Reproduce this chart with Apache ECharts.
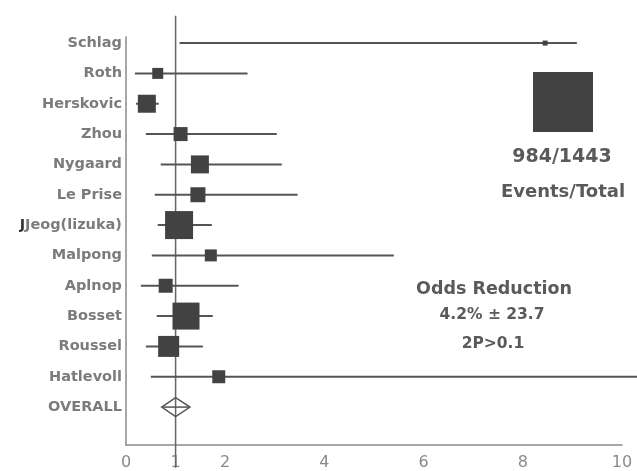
<!DOCTYPE html>
<html>
<head>
<meta charset="utf-8">
<script src="https://cdn.jsdelivr.net/npm/echarts@6/dist/echarts.min.js"></script>
<style>html,body{margin:0;padding:0;background:#fff}#c{width:637px;height:471px}</style>
</head>
<body>
<div id="c"></div>
<script>
// ---- data ----
const studies = ["Schlag","Roth","Herskovic","Zhou","Nygaard","Le Prise","Jeog(lizuka)","Malpong","Aplnop","Bosset","Roussel","Hatlevoll"];
const lower   = [1.08, 0.18, 0.20, 0.40, 0.70, 0.58, 0.64, 0.52, 0.30, 0.62, 0.40, 0.50];
const upper   = [9.09, 2.45, 0.66, 3.04, 3.14, 3.46, 1.73, 5.40, 2.27, 1.75, 1.55, 10.4];
const oddsRatio = [8.45, 0.64, 0.42, 1.10, 1.49, 1.45, 1.07, 1.71, 0.80, 1.21, 0.86, 1.87];
const weights = [5, 11, 18, 14, 18, 15, 28, 12, 14, 27, 21, 13];
const overall = {label: "OVERALL", lower: 0.72, upper: 1.29, odds: 1.0};
const xTicks = [0, 1, 2, 4, 6, 8, 10];
const legendText = ["984/1443", "Events/Total"];
const statText = ["Odds Reduction", "4.2% \u00b1 23.7", "2P>0.1"];

// ---- chart ----
const chart = echarts.init(document.getElementById('c'), null, {renderer: 'canvas'});
const FONT = '"DejaVu Sans", sans-serif';
const TXT = '#5a5a5a';
const BOX = '#424242';

const rows = studies.map((s, i) => [lower[i], upper[i], oddsRatio[i], i + 1, weights[i]]);
const labelData = studies.map((s, i) => ({value: [0, i + 1], name: s}));
labelData.push({value: [0, studies.length + 1], name: overall.label});

const option = {
  animation: false,
  grid: {left: 126, right: 15, top: 37, bottom: 24, containLabel: false},
  xAxis: {
    type: 'value', min: 0, max: 10, interval: 1,
    axisLine: {show: true, lineStyle: {color: '#8a8a8a', width: 1.5}},
    axisTick: {show: false},
    splitLine: {show: false},
    axisLabel: {
      margin: 10, color: '#8a8a8a', fontFamily: FONT, fontSize: 16,
      formatter: v => xTicks.indexOf(v) >= 0 ? String(v) : ''
    }
  },
  yAxis: {
    type: 'value', inverse: true, min: 0.8, max: 14.25,
    axisLine: {show: true, lineStyle: {color: '#8a8a8a', width: 1.5}},
    axisTick: {show: false}, axisLabel: {show: false}, splitLine: {show: false}
  },
  series: [
    {
      type: 'line', clip: false, symbol: 'none', z: 1,
      lineStyle: {color: '#666', width: 1.5},
      data: [[1, 0.1], [1, 15]]
    },
    {
      type: 'custom', clip: false, z: 3,
      data: rows,
      encode: {x: [0, 1, 2], y: 3},
      renderItem: function (params, api) {
        const y = api.coord([0, api.value(3)])[1];
        const xl = api.coord([api.value(0), 0])[0];
        const xu = api.coord([api.value(1), 0])[0];
        const xp = api.coord([api.value(2), 0])[0];
        const s = api.value(4);
        return {
          type: 'group',
          children: [
            {type: 'line', shape: {x1: xl, y1: y, x2: xu, y2: y}, style: {stroke: '#555', lineWidth: 2}},
            {type: 'rect', shape: {x: xp - s / 2, y: y - s / 2, width: s, height: s}, style: {fill: BOX}}
          ]
        };
      }
    },
    {
      type: 'custom', clip: false, z: 3,
      data: [[overall.lower, overall.upper, overall.odds, studies.length + 1]],
      encode: {x: [0, 1, 2], y: 3},
      renderItem: function (params, api) {
        const y = api.coord([0, api.value(3)])[1];
        const xl = api.coord([api.value(0), 0])[0];
        const xu = api.coord([api.value(1), 0])[0];
        const xp = api.coord([api.value(2), 0])[0];
        const h = 9.5;
        return {
          type: 'group',
          children: [
            {type: 'line', shape: {x1: xl, y1: y, x2: xu, y2: y}, style: {stroke: '#555', lineWidth: 1.5}},
            {type: 'polygon', shape: {points: [[xl, y], [xp, y - h], [xu, y], [xp, y + h]]},
             style: {fill: 'none', stroke: '#555', lineWidth: 1.5}}
          ]
        };
      }
    },
    {
      type: 'scatter', symbolSize: 0, z: 4,
      data: labelData,
      label: {
        show: true, position: 'left', distance: 4,
        formatter: p => p.name === 'Jeog(lizuka)' ? '{j|J}' + p.name : p.name,
        color: TXT, fontFamily: FONT, fontWeight: 'bold', fontSize: 14.5,
        rich: {j: {color: '#000', fontFamily: FONT, fontWeight: 'bold', fontSize: 14.5}}
      }
    }
  ],
  graphic: [
    {type: 'rect', shape: {x: 533, y: 72, width: 60, height: 60}, style: {fill: BOX}},
    {type: 'text', x: 562, y: 157, style: {text: legendText[0], fill: TXT, font: 'bold 19px ' + FONT, textAlign: 'center', textVerticalAlign: 'middle'}},
    {type: 'text', x: 563, y: 192, style: {text: legendText[1], fill: TXT, font: 'bold 18px ' + FONT, textAlign: 'center', textVerticalAlign: 'middle'}},
    {type: 'text', x: 494, y: 289, style: {text: statText[0], fill: TXT, font: 'bold 17.5px ' + FONT, textAlign: 'center', textVerticalAlign: 'middle'}},
    {type: 'text', x: 492, y: 315, style: {text: statText[1], fill: TXT, font: 'bold 15.5px ' + FONT, textAlign: 'center', textVerticalAlign: 'middle'}},
    {type: 'text', x: 493, y: 344, style: {text: statText[2], fill: TXT, font: 'bold 15.5px ' + FONT, textAlign: 'center', textVerticalAlign: 'middle'}}
  ]
};
chart.setOption(option);
</script>
</body>
</html>
